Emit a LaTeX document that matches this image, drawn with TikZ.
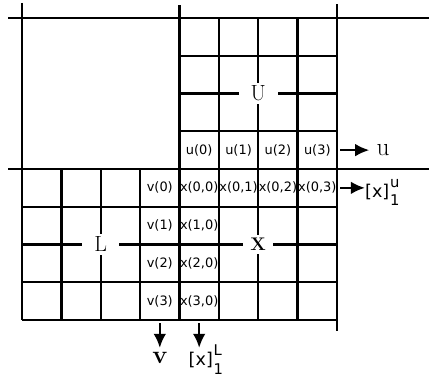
\documentclass[tikz,border=0pt]{standalone}
\usepackage{fontspec}
\usetikzlibrary{arrows.meta}
\newfontfamily\cellfont{DejaVu Sans}
\newcommand{\xsupsub}[2]{\kern0.5pt\rlap{\raisebox{7pt}[0pt][0pt]{\fontsize{10.5}{11}\selectfont #1}}\rlap{\raisebox{-6pt}[0pt][0pt]{\fontsize{10.5}{11}\selectfont #2}}}
\tikzset{
  grid/.style={line width=1.6pt},
  cell/.style={minimum width=0.984cm, minimum height=0.944cm, inner sep=0pt,
    font=\cellfont\fontsize{9.2}{10}\selectfont},
  blocklabel/.style={fill=white, inner xsep=8.5pt, inner ysep=2pt,
    font=\fontsize{15.6}{18}\selectfont},
  outlabel/.style={inner sep=0pt, font=\fontsize{18}{20}\selectfont},
  vecname/.style={inner sep=0pt, font=\cellfont\fontsize{12.5}{14}\selectfont},
  arr/.style={line width=1.6pt, -{Latex[length=10pt,width=9pt]}, shorten <=2pt}
}
\begin{document}
\begin{tikzpicture}[x=0.984375cm, y=0.94375cm]
    \useasboundingbox (-4.559,4.477) rectangle (6.337,-5.669);
    % outer lines
    \draw[grid] (-4.355,4) -- (6.337,4);
    \draw[grid] (-4.355,0) -- (6.337,0);
    \draw[grid] (-4,4.40) -- (-4,-4);
    \draw[grid] (0,4.34) -- (0,-4);
    \draw[grid] (4,4.37) -- (4,-4.3);
    \draw[grid] (-4,-4) -- (4,-4);
    % U block
    \foreach \i in {1,2,3} {
        \draw[grid] (0,\i) -- (4,\i);
        \draw[grid] (\i,0) -- (\i,4);
    }
    % L and X blocks
    \foreach \i in {1,2,3}
        \draw[grid] (-4,-\i) -- (4,-\i);
    \foreach \i in {-3,-2,-1,1,2,3}
        \draw[grid] (\i,0) -- (\i,-4);
    % block names
    \node[blocklabel] (U) at (2,2) {U};
    \node[blocklabel] (L) at (-2,-2) {L};
    \node[blocklabel, inner xsep=5pt, font=\bfseries\fontsize{13}{14}\selectfont] (X) at (2,-2) {X};
    % cells
    \foreach \k in {0,...,3} {
        \node[cell] (u\k) at (\k+0.5,0.5) {u(\k)};
        \node[cell] (x0\k) at (\k+0.5,-0.5) {x(0,\k)};
        \node[cell] (v\k) at (-0.5,-\k-0.5) {v(\k)};
    }
    \foreach \k in {1,2,3}
        \node[cell] (x\k0) at (0.5,-\k-0.5) {x(\k,0)};
    % outputs
    \node[outlabel] (u) at (5.17,0.5) {u};
    \node[vecname, anchor=west] (xu) at (4.71,-0.6) {[x]\xsupsub{u}{1}};
    \node[outlabel, anchor=north, font=\bfseries\fontsize{18}{20}\selectfont] (v) at (-0.5,-4.85) {v};
    \node[vecname, anchor=north] (xl) at (0.55,-4.85) {[x]\xsupsub{L}{1}};
    \draw[arr, shorten >=5pt] (u3.east) -- (u.west);
    \draw[arr] (x03.east) -- (x03.east -| xu.west);
    \draw[arr, shorten >=3pt] (v3.south) -- (v.north);
    \draw[arr, shorten >=3pt] (x30.south) -- (x30.south |- xl.north);
\end{tikzpicture}
\end{document}
